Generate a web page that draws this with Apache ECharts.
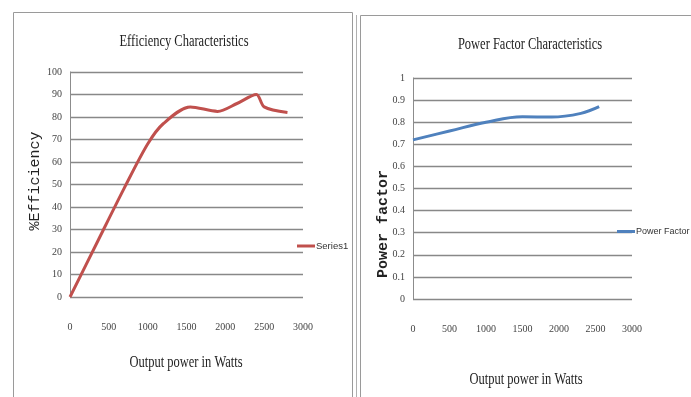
<!DOCTYPE html>
<html>
<head>
<meta charset="utf-8">
<script src="https://cdn.jsdelivr.net/npm/echarts@6/dist/echarts.min.js"></script>
<style>
  html, body { margin: 0; padding: 0; background: #fff; }
  #chart { width: 691px; height: 397px; }
</style>
</head>
<body>
<div id="chart"></div>
<script>
// Efficiency vs output power (W, %)
const effPower = [0, 360, 700, 1000, 1200, 1550, 1900, 2150, 2400, 2500, 2800];
const effValues = [0, 25, 48.5, 68, 77, 84.5, 82.5, 86, 90, 84.5, 82];

// Power factor vs output power (W)
const pfPower = [0, 500, 1000, 1500, 1900, 2300, 2550];
const pfValues = [0.72, 0.76, 0.80, 0.825, 0.823, 0.84, 0.87];

const xTicks = [0, 500, 1000, 1500, 2000, 2500, 3000];

const effName = 'Series1';
const pfName = 'Power Factor';

const serif = '"Liberation Serif", serif';
const sans = '"Liberation Sans", sans-serif';

const chart = echarts.init(document.getElementById('chart'), null, { renderer: 'canvas' });

function pairs(xs, ys) { return xs.map((x, i) => [x, ys[i]]); }

const gridCommon = { containLabel: false, show: false };
const xAxisCommon = {
  type: 'value', min: xTicks[0], max: xTicks[xTicks.length - 1], interval: 500,
  axisLine: { show: false }, axisTick: { show: false }, splitLine: { show: false },
  axisLabel: { margin: 25, color: '#444', fontFamily: serif, fontSize: 10, formatter: v => String(v) }
};
const yAxisCommon = {
  type: 'value', min: 0,
  axisLine: { show: true, lineStyle: { color: '#8c8c8c', width: 1 } },
  axisTick: { show: false },
  splitLine: { show: true, lineStyle: { color: '#888', width: 1.3 } },
  axisLabel: { margin: 8, color: '#444', fontFamily: serif, fontSize: 10 }
};

chart.setOption({
  backgroundColor: '#ffffff',
  animation: false,
  grid: [
    Object.assign({ left: 70, top: 72, width: 233, height: 225 }, gridCommon),
    Object.assign({ left: 413, top: 78, width: 219, height: 221 }, gridCommon)
  ],
  xAxis: [
    Object.assign({ gridIndex: 0 }, xAxisCommon),
    Object.assign({ gridIndex: 1 }, xAxisCommon)
  ],
  yAxis: [
    Object.assign({ gridIndex: 0, max: 100, interval: 10 }, yAxisCommon),
    Object.assign({ gridIndex: 1, max: 1, interval: 0.1 }, yAxisCommon)
  ],
  legend: [
    {
      data: [effName], left: 297, top: 241, padding: 0, itemWidth: 18, itemHeight: 3, itemGap: 0,
      icon: 'rect', textStyle: { fontFamily: sans, fontSize: 9.5, color: '#333', padding: [0, 0, 0, -4] }
    },
    {
      data: [pfName], left: 617, top: 227, padding: 0, itemWidth: 18, itemHeight: 3, itemGap: 0,
      icon: 'rect', textStyle: { fontFamily: sans, fontSize: 9, color: '#333', padding: [0, 0, 0, -4] }
    }
  ],
  series: [
    {
      name: effName, type: 'line', xAxisIndex: 0, yAxisIndex: 0,
      data: pairs(effPower, effValues), smooth: 0.3, showSymbol: false,
      lineStyle: { color: '#C0504D', width: 3 }, itemStyle: { color: '#C0504D' }
    },
    {
      name: pfName, type: 'line', xAxisIndex: 1, yAxisIndex: 1,
      data: pairs(pfPower, pfValues), smooth: 0.4, showSymbol: false,
      lineStyle: { color: '#4F81BD', width: 3 }, itemStyle: { color: '#4F81BD' }
    }
  ],
  graphic: [
    // panel frames
    { type: 'polyline', shape: { points: [[13.5, 397], [13.5, 12.5], [352.5, 12.5], [352.5, 397]] },
      style: { stroke: '#9a9a9a', lineWidth: 1, fill: null } },
    { type: 'line', shape: { x1: 356.5, y1: 15, x2: 356.5, y2: 397 }, style: { stroke: '#b0b0b0', lineWidth: 1 } },
    { type: 'polyline', shape: { points: [[360.5, 397], [360.5, 15.5], [691, 15.5]] },
      style: { stroke: '#9a9a9a', lineWidth: 1, fill: null } },
    // chart titles
    { type: 'text', x: 184, y: 42, scaleX: 0.78,
      style: { text: 'Efficiency Characteristics', font: '16px "Liberation Serif", serif', fill: '#222', align: 'center', verticalAlign: 'middle' } },
    { type: 'text', x: 530, y: 45, scaleX: 0.78,
      style: { text: 'Power Factor Characteristics', font: '16px "Liberation Serif", serif', fill: '#222', align: 'center', verticalAlign: 'middle' } },
    // x axis names
    { type: 'text', x: 186, y: 363, scaleX: 0.78,
      style: { text: 'Output power in Watts', font: '16px "Liberation Serif", serif', fill: '#222', align: 'center', verticalAlign: 'middle' } },
    { type: 'text', x: 526, y: 380, scaleX: 0.78,
      style: { text: 'Output power in Watts', font: '16px "Liberation Serif", serif', fill: '#222', align: 'center', verticalAlign: 'middle' } },
    // y axis names
    { type: 'text', x: 35, y: 181, rotation: Math.PI / 2,
      style: { text: '%Efficiency', font: '15px "Liberation Mono", monospace', fill: '#222', align: 'center', verticalAlign: 'middle' } },
    { type: 'text', x: 383, y: 224, rotation: Math.PI / 2,
      style: { text: 'Power factor', font: 'bold 15px "Liberation Mono", monospace', fill: '#222', align: 'center', verticalAlign: 'middle' } }
  ]
});
</script>
</body>
</html>
